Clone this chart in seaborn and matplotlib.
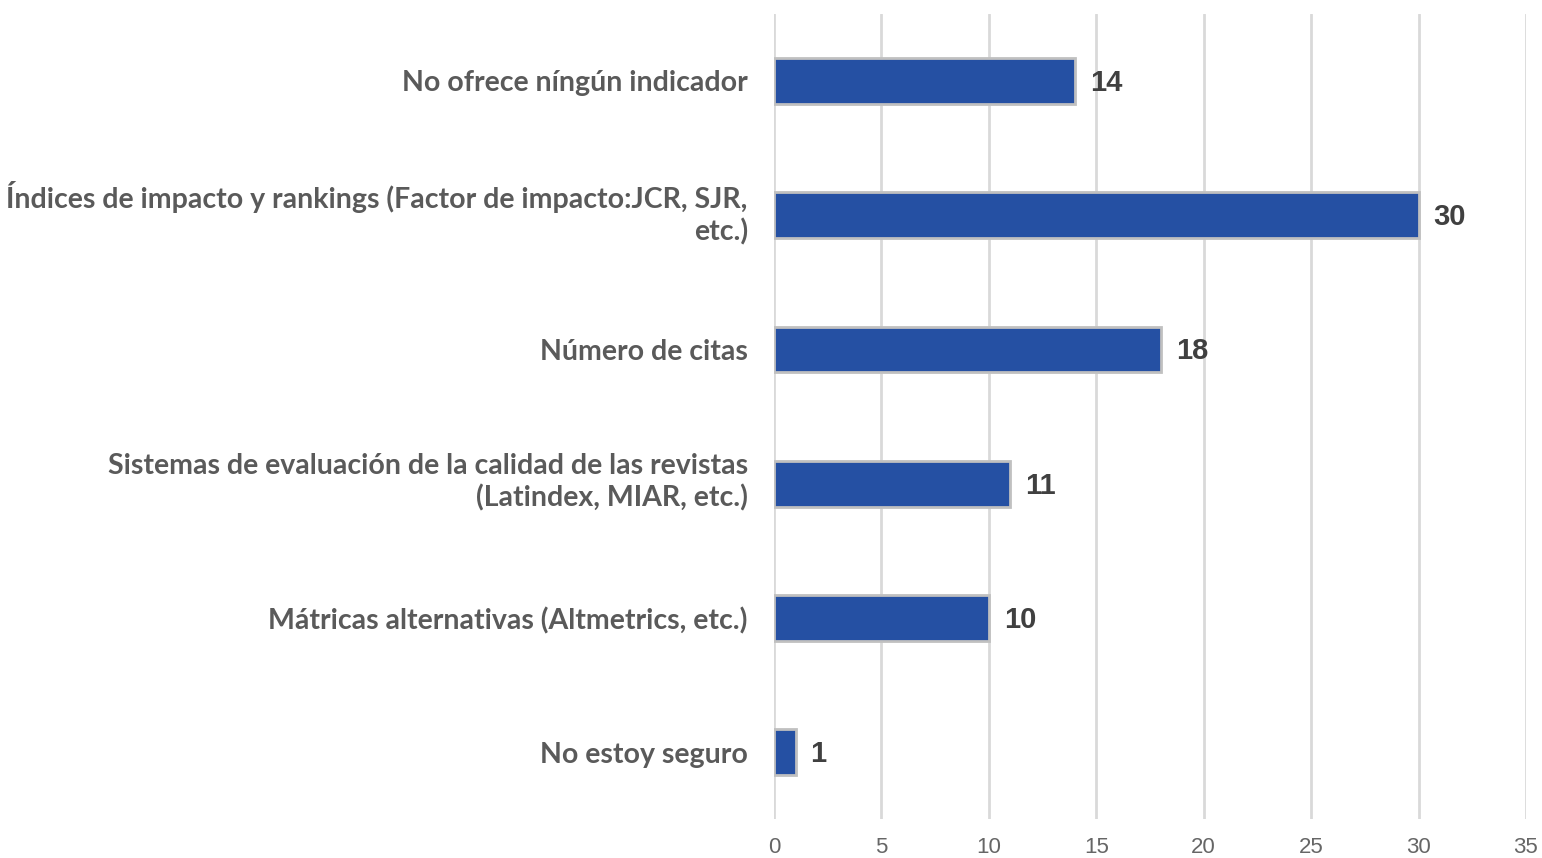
import matplotlib
matplotlib.use("Agg")
import matplotlib.pyplot as plt
import matplotlib.transforms as mtransforms
import seaborn as sns
import pandas as pd

# Data
categories = [
    "No ofrece níngún indicador",
    "Índices de impacto y rankings (Factor de impacto:JCR, SJR,\netc.)",
    "Número de citas",
    "Sistemas de evaluación de la calidad de las revistas\n(Latindex, MIAR, etc.)",
    "Mátricas alternativas (Altmetrics, etc.)",
    "No estoy seguro",
]
counts = [14, 30, 18, 11, 10, 1]
x_ticks = [0, 5, 10, 15, 20, 25, 30, 35]

df = pd.DataFrame({"categoria": categories, "n": counts})

sns.set_style("white")

fig = plt.figure(figsize=(15.42, 8.58), dpi=100)
ax = fig.add_axes([0.502, 0.045, 0.4876, 0.939])

sns.barplot(data=df, y="categoria", x="n", orient="h", color="#2550A3",
            saturation=1, width=0.34, edgecolor="#C0C0C0", linewidth=2, ax=ax)

# value labels
for i, v in enumerate(counts):
    ax.text(v + 0.7, i + 0.015, str(v), va="center", ha="left", fontsize=21,
            fontweight="bold", color="#404040", family="Liberation Sans")

ax.set_xlim(0, 35)
ax.set_ylim(5.5, -0.5)
ax.set_xticks(x_ticks)
ax.set_xlabel("")
ax.set_ylabel("")
ax.xaxis.grid(True, color="#D9D9D9", linewidth=2)
ax.set_axisbelow(True)
for s in ax.spines.values():
    s.set_visible(False)

ax.tick_params(axis="x", length=0, pad=13, labelsize=16, labelcolor="#666666")
ax.tick_params(axis="y", length=0, pad=19)
for lbl in ax.get_xticklabels():
    lbl.set_family("Liberation Sans")
for lbl in ax.get_yticklabels():
    lbl.set_family("Lato")
    lbl.set_fontsize(20.5)
    lbl.set_fontweight("bold")
    lbl.set_color("#5a5a5a")
    lbl.set_horizontalalignment("right")
    lbl.set_multialignment("right")
    lbl.set_linespacing(1.25)
    if "\n" in lbl.get_text():
        lbl.set_transform(lbl.get_transform() +
                          mtransforms.ScaledTranslation(0, 7 / 100, fig.dpi_scale_trans))

fig.savefig("out.png", dpi=100)
